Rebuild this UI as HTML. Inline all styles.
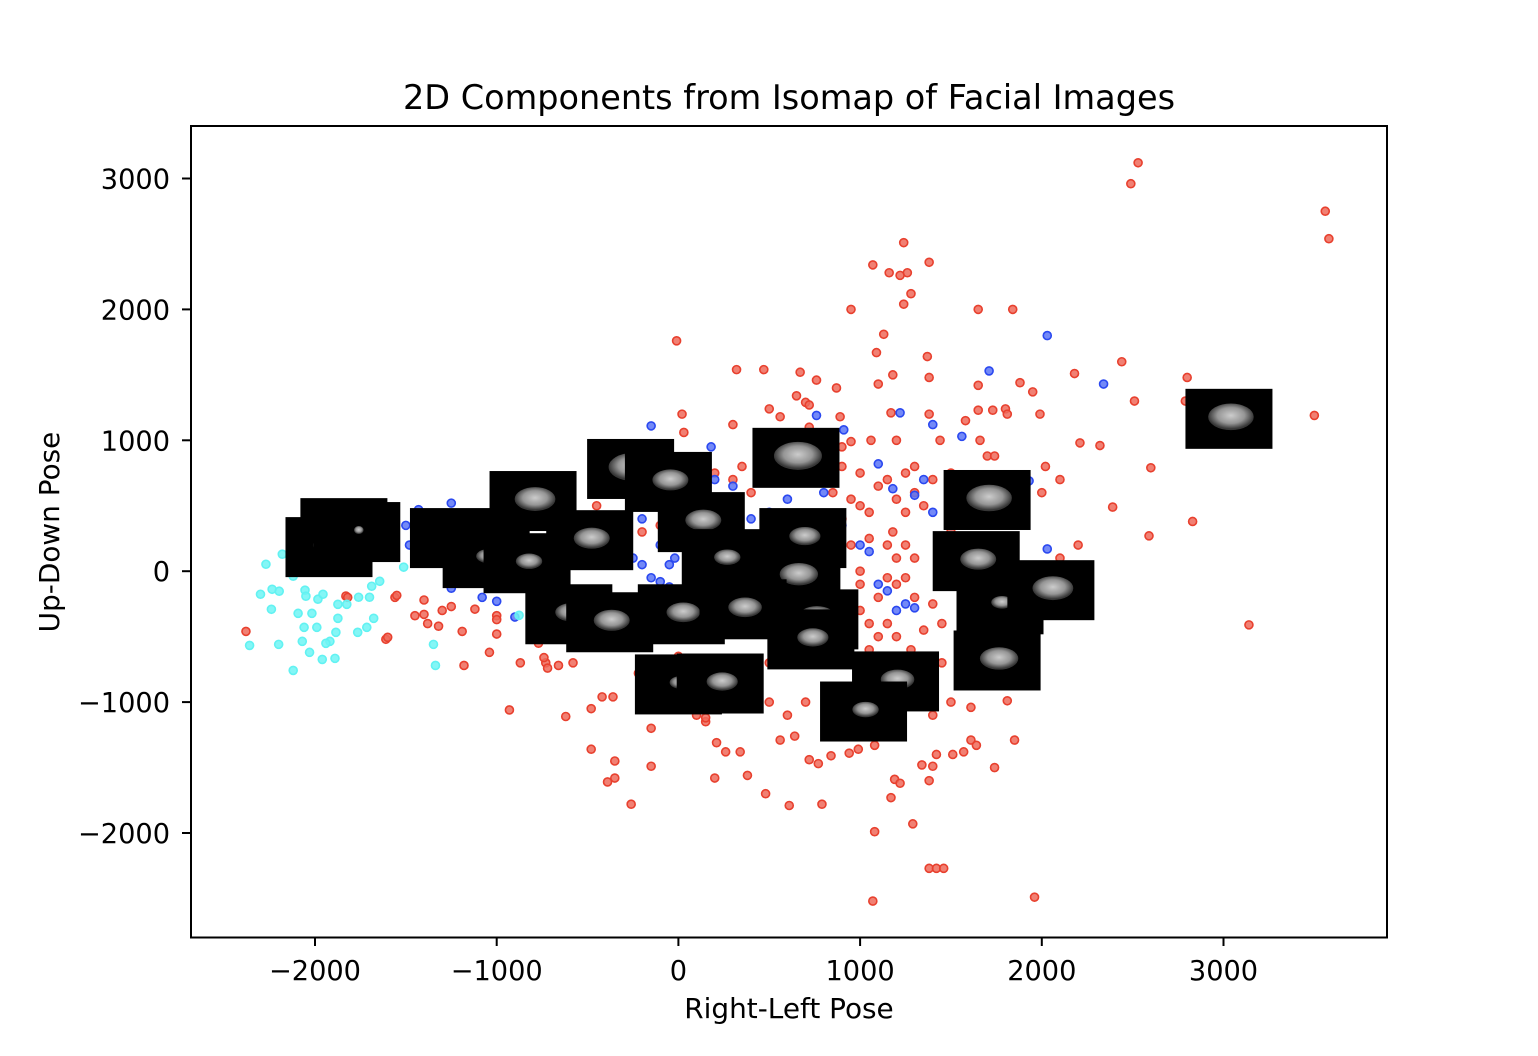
<!DOCTYPE html>
<html><head><meta charset="utf-8"><style>
html,body{margin:0;padding:0;background:#fff;}
svg{display:block;font-family:"DejaVu Sans","Liberation Sans",sans-serif;}
</style></head><body>
<svg id="chart" width="1538" height="1056" viewBox="0 0 1538 1056" xmlns="http://www.w3.org/2000/svg">
<defs>
<radialGradient id="blob" cx="50%" cy="45%" r="50%">
<stop offset="0" stop-color="#f0f0f0"/><stop offset="0.6" stop-color="#b0b0b0"/><stop offset="1" stop-color="#404040"/>
</radialGradient>
</defs>
<rect width="1538" height="1056" fill="#fff"/>
<text x="789" y="109" text-anchor="middle" font-size="33.5">2D Components from Isomap of Facial Images</text>
<g id="plot"></g>
<rect x="191" y="126" width="1196" height="811.5" fill="none" stroke="#000" stroke-width="2"/>
<g id="xticks"></g>
<g id="yticks"></g>
<text x="789" y="1018" text-anchor="middle" font-size="27.9">Right-Left Pose</text>
<text x="0" y="0" transform="translate(59,532) rotate(-90)" text-anchor="middle" font-size="27.9">Up-Down Pose</text>
</svg>
<script>
const xTicks=[-2000,-1000,0,1000,2000,3000];
const yTicks=[3000,2000,1000,0,-1000,-2000];
const redX=[2530,2490,3560,3580,1240,1380,1260,1220,1070,1160,1240,1280,950,1650,1840,1130,-10,1090,2440,1370,2180,1180,1100,1650,1880,1950,1380,320,470,670,760,870,2800,2510,2790,3500,1170,650,700,720,890,1380,1580,1650,1730,1800,1810,1990,2210,2320,20,30,300,500,560,720,950,1060,1200,1440,1660,1700,1740,-360,2020,2100,2600,2390,2590,2830,3140,1960,1070,1080,1170,1290,1380,1420,1460,1380,1190,1220,1400,1340,1420,1510,1570,1610,1740,1640,1810,1850,1610,940,840,720,770,1080,990,610,790,480,380,200,260,340,210,560,640,150,100,440,500,600,700,900,1200,1300,1500,1650,-260,-350,-390,-350,-150,-480,-620,-480,-420,-360,-150,-30,-220,-580,-660,-730,-720,-740,-870,-770,-930,-1180,-1190,-1040,-1000,-1000,-1120,-1320,-1380,-1400,-1300,-1250,-1400,-1450,-1560,-1610,-1830,-2380,-1000,-600,-400,-200,-100,0,1200,1250,1200,1100,1000,1050,1150,1200,1100,1050,950,1000,1150,1250,1300,1400,1350,1280,1450,1350,1300,1400,1150,1000,1180,1250,1300,1350,1400,1300,1250,1150,1100,1200,1050,1000,900,950,1050,1150,1300,1450,1500,1550,1500,1600,1650,1800,1900,2000,1900,1750,2100,2200,1560,1450,1600,750,800,850,900,800,700,600,500,400,300,200,100,350,450,550,-100,-50,-200,-250,-300,-400,-450,-600,-650,-200,-100,-50,1000,850,900,950,800,1000,850,900,700,600,500,400,300,200,100,0,-150,150,880,870,950,-1820,-1550,-1600];
const redY=[3120,2960,2750,2540,2510,2360,2280,2260,2340,2280,2040,2120,2000,2000,2000,1810,1760,1670,1600,1640,1510,1500,1430,1420,1440,1370,1480,1540,1540,1520,1460,1400,1480,1300,1300,1190,1210,1340,1290,1270,1180,1200,1150,1230,1230,1240,1200,1200,980,960,1200,1060,1120,1240,1180,1100,990,1000,1000,1000,1000,880,880,870,800,700,790,490,270,380,-410,-2490,-2520,-1990,-1730,-1930,-2270,-2270,-2270,-1600,-1590,-1620,-1490,-1480,-1400,-1400,-1380,-1290,-1500,-1330,-990,-1290,-1040,-1390,-1410,-1440,-1470,-1330,-1360,-1790,-1780,-1700,-1560,-1580,-1380,-1380,-1310,-1290,-1260,-1150,-1100,-1050,-1000,-1100,-1000,-1000,-900,-800,-1000,-800,-1780,-1580,-1610,-1450,-1490,-1360,-1110,-1050,-960,-960,-1200,-800,-780,-700,-720,-700,-740,-660,-700,-550,-1060,-720,-460,-620,-480,-340,-290,-420,-400,-330,-300,-270,-220,-340,-200,-520,-190,-460,-370,-500,-450,-450,-300,-200,100,200,-100,-200,-300,-400,-400,-500,-500,-600,-250,-100,-50,-50,-200,-250,-450,-600,-700,-900,-1000,-1100,-1100,-1150,300,450,600,500,700,800,750,700,650,550,450,500,400,550,250,200,100,150,300,500,750,700,600,500,450,600,700,400,100,200,-100,-400,-300,800,850,900,950,700,800,850,700,600,700,750,800,800,950,900,600,650,680,720,600,650,500,550,700,300,350,250,750,600,800,200,50,0,-100,-300,-400,-600,-700,-800,-900,-850,-750,-650,-700,-1120,-1260,-1220,-1100,-200,-185,-505];
const blueX=[2030,1710,2340,1220,1400,1560,-150,180,760,910,1100,1650,1930,2030,1350,1300,1180,1100,1150,1200,1250,1300,-1250,-1430,-1500,-1480,-1440,-1560,-1250,-1200,-1080,-1000,-870,-830,-700,-500,-400,-250,-200,-150,-100,-50,-300,-200,-100,50,100,400,500,600,0,-900,200,300,900,1000,1050,1400,1500,1550,800,-20,-50,100,1700,1800];
const blueY=[1800,1530,1430,1210,1120,1030,1110,950,1190,1080,820,650,690,170,700,580,630,-100,-150,-300,-250,-280,520,470,350,200,300,250,-130,-80,-200,-230,300,250,280,200,600,100,50,-50,-80,-120,300,400,200,0,-100,400,450,550,-300,-350,700,650,350,200,150,450,350,200,600,100,50,50,700,650];
const cyanX=[-2270,-2180,-2300,-2236,-2197,-2240,-2093,-2017,-2060,-1990,-2070,-2030,-1960,-1890,-2120,-2360,-2200,-2055,-2050,-1984,-1956,-1874,-1825,-1760,-1700,-1688,-1644,-1512,-1874,-1885,-1918,-1940,-1765,-1715,-1677,-1348,-1337,-877,-2120];
const cyanY=[53,130,-176,-138,-153,-291,-322,-322,-429,-429,-536,-620,-674,-666,-758,-567,-559,-145,-191,-214,-176,-253,-253,-199,-199,-115,-77,31,-360,-467,-536,-551,-467,-429,-360,-559,-720,-337,-38];
const thumbX=[-1841,-1923,-1770,-1238,-1058,-800,-263,-55,647,126,-488,-833,685,258,652,-603,-378,16,356,751,729,0,230,1195,1019,1699,1639,1770,2050,1754,3030];
const thumbY=[329,184,299,253,100,536,781,682,866,375,237,61,253,92,-38,-329,-390,-329,-291,-368,-521,-865,-858,-842,-1072,544,77,-253,-145,-682,1164];

const X0=678.4, XS=0.1817, Y0=571.2, YS=0.1309;
function sx(v){return X0+v*XS;}
function sy(v){return Y0-v*YS;}
const NS="http://www.w3.org/2000/svg";
function mk(tag,attrs,parent){const e=document.createElementNS(NS,tag);for(const k in attrs)e.setAttribute(k,attrs[k]);parent.appendChild(e);return e;}
const plot=document.getElementById('plot');
function series(xs,ys,fill,stroke,name){
  const g=mk('g',{},plot);
  
  
  for(let i=0;i<xs.length;i++){
    const c=mk('circle',{cx:sx(xs[i]),cy:sy(ys[i]),r:4,fill:fill,stroke:stroke,'stroke-width':1.6,'fill-opacity':0.85},g);
    
    
  }
}
series(redX,redY,'#ee6a5a','#e8402e','red');
series(blueX,blueY,'#5a74f6','#2a48f0','blue');
series(cyanX,cyanY,'#6ef5f5','#62f2f2','cyan');
const tg=mk('g',{},plot);


const blobW=[10,30,8,18,20,34,40,30,40,30,30,22,26,22,32,26,30,28,28,32,26,18,26,28,22,38,30,18,34,32,38];
for(let i=0;i<thumbX.length;i++){
  const cx=sx(thumbX[i]),cy=sy(thumbY[i]);
  const r=mk('rect',{x:cx-43.5,y:cy-30,width:87,height:60,fill:'#000'},tg);
  
  
  const w=blobW[i%blobW.length];
  const b=mk('ellipse',{cx:cx+2,cy:cy-2,rx:w*0.6,ry:Math.max(4,w*0.35),fill:'url(#blob)',opacity:0.85},tg);
  
  
}
const xg=document.getElementById('xticks');
xTicks.forEach(v=>{
  const l=mk('line',{x1:sx(v),x2:sx(v),y1:937.5,y2:946,stroke:'#000','stroke-width':2},xg);
  
  
  const t=mk('text',{x:sx(v),y:980,'text-anchor':'middle','font-size':27.2},xg);
  t.textContent=v<0?'\u2212'+Math.abs(v):String(v);
  
  
});
const yg=document.getElementById('yticks');
yTicks.forEach(v=>{
  const l=mk('line',{x1:182,x2:191,y1:sy(v),y2:sy(v),stroke:'#000','stroke-width':2},yg);
  
  
  const t=mk('text',{x:170,y:sy(v)+10,'text-anchor':'end','font-size':27.2},yg);
  t.textContent=v<0?'\u2212'+Math.abs(v):String(v);
  
  
});
</script>
</body></html>
